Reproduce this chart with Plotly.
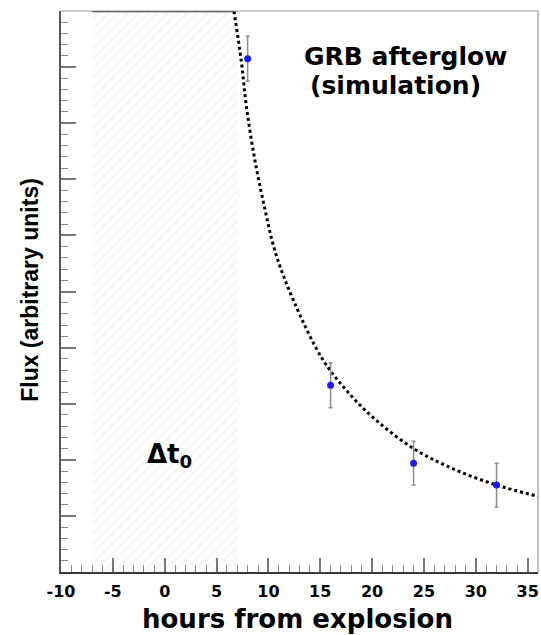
import plotly.graph_objects as go

# Simulated afterglow measurements (hours after the burst, flux in arbitrary units)
obs_hours = [8, 16, 24, 32]
obs_flux = [9.15, 3.33, 1.94, 1.55]
obs_err = [0.40, 0.40, 0.39, 0.39]

# Decay model curve sampled along the light curve
model_hours = [6.68, 7.39, 7.88, 8.61, 9.58, 10.7, 12.47, 15.2, 17.6, 20.3, 24.0, 27.8, 32.0, 36.0]
model_flux = [10.0, 9.1, 8.3, 7.43, 6.54, 5.68, 4.82, 3.8, 3.22, 2.72, 2.2, 1.84, 1.55, 1.35]

# Uncertainty window on the explosion time
window_start, window_end = -7, 7
flux_max = 10

x_ticks = [-10, -5, 0, 5, 10, 15, 20, 25, 30, 35]
x_range = [-10, 36]
y_range = [0, flux_max]

FONT = "DejaVu Sans"

fig = go.Figure()

# hatched Δt0 window
fig.add_trace(go.Scatter(
    x=[window_start, window_end, window_end, window_start, window_start],
    y=[0, 0, flux_max, flux_max, 0],
    mode="lines", fill="toself",
    line=dict(width=0, color="rgba(0,0,0,0)"),
    fillcolor="rgba(255,255,255,0)",
    fillpattern=dict(shape="/", fgcolor="#ebebeb", bgcolor="#fdfdfd",
                     size=7, solidity=0.25),
    hoverinfo="skip", showlegend=False,
))

# model clipped at the top of the frame
fig.add_trace(go.Scatter(
    x=[window_start, model_hours[0]], y=[flux_max, flux_max],
    mode="lines", line=dict(color="#333333", width=2.5),
    hoverinfo="skip", showlegend=False, cliponaxis=False,
))

# decay model
fig.add_trace(go.Scatter(
    x=model_hours, y=model_flux, mode="lines",
    line=dict(color="black", width=3, dash="dot", shape="spline", smoothing=1.0),
    showlegend=False,
))

# measurements with error bars
fig.add_trace(go.Scatter(
    x=obs_hours, y=obs_flux, mode="markers",
    marker=dict(color="#1a1aff", size=7, symbol="circle", line=dict(width=0)),
    error_y=dict(type="data", array=obs_err, visible=True,
                 color="#8c8c8c", thickness=1.5, width=2),
    showlegend=False,
))

fig.update_layout(
    width=541, height=635,
    margin=dict(l=61, r=3, t=11, b=63),
    paper_bgcolor="white", plot_bgcolor="white",
    font=dict(family=FONT, color="black"),
    xaxis=dict(
        range=x_range, tickmode="array", tickvals=x_ticks,
        ticktext=[str(v) for v in x_ticks],
        ticks="inside", ticklen=14, tickwidth=1.5, tickcolor="#777777",
        minor=dict(ticks="inside", ticklen=7, dtick=1, tickwidth=1.2,
                   tickcolor="#8a8a8a", showgrid=False),
        showgrid=False, zeroline=False,
        showline=True, linecolor="#3a3a3a", linewidth=2,
        ticklabelstandoff=4,
        tickfont=dict(family=FONT, size=16, color="black", weight="bold"),
    ),
    yaxis=dict(
        range=y_range, dtick=1, tick0=0,
        ticks="inside", ticklen=15, tickwidth=1.5, tickcolor="#777777",
        minor=dict(ticks="inside", ticklen=7, dtick=0.2, tickwidth=1.2,
                   tickcolor="#8a8a8a", showgrid=False),
        showticklabels=False, showgrid=False, zeroline=False,
        showline=True, linecolor="#555555", linewidth=1.5,
    ),
    shapes=[
        dict(type="line", xref="paper", yref="paper", x0=0, x1=1, y0=1, y1=1,
             line=dict(color="#9a9a9a", width=1.2)),
        dict(type="line", xref="paper", yref="paper", x0=1, x1=1, y0=0, y1=1,
             line=dict(color="#9a9a9a", width=1.2)),
    ],
    annotations=[
        dict(text="hours from explosion", xref="paper", yref="paper",
             x=0.495, y=-0.084, xanchor="center", yanchor="middle",
             showarrow=False, font=dict(family=FONT, size=26, weight="bold")),
        dict(text="Flux (arbitrary units)", xref="paper", yref="paper",
             x=-0.065, y=0.503, xanchor="center", yanchor="middle", textangle=-90,
             showarrow=False,
             font=dict(family="Liberation Sans", size=23, weight="bold")),
        dict(text="GRB afterglow", x=23.2, y=9.19, xanchor="center", yanchor="middle",
             showarrow=False, font=dict(family=FONT, size=25, weight="bold")),
        dict(text="(simulation)", x=22.3, y=8.68, xanchor="center", yanchor="middle",
             showarrow=False, font=dict(family=FONT, size=25, weight="bold")),
        dict(text="Δt<sub>0</sub>", x=0.5, y=2.07, xanchor="center", yanchor="middle",
             showarrow=False, font=dict(family=FONT, size=26, weight="bold")),
    ],
)

fig.write_html("out.html")
